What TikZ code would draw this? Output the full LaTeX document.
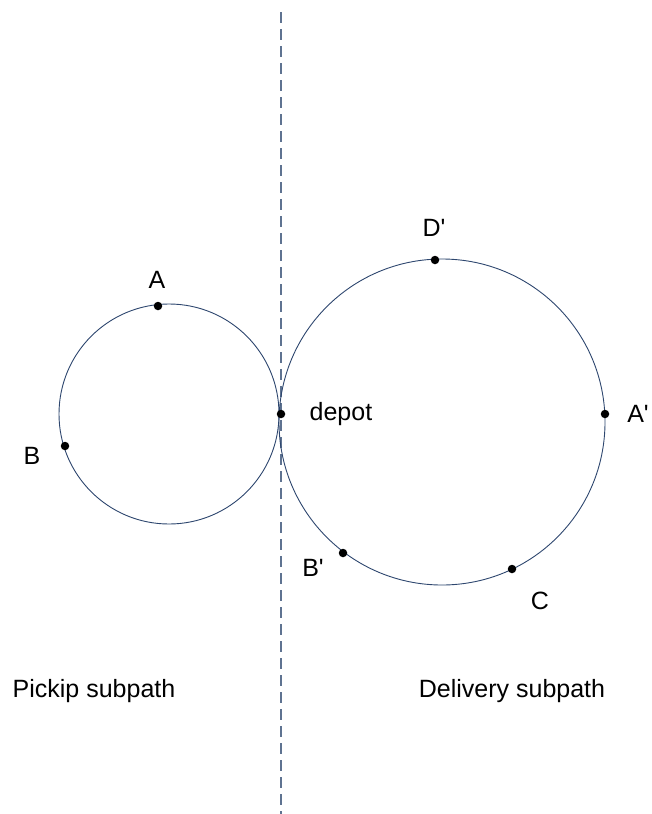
\documentclass[tikz,border=0pt]{standalone}
\usepackage{fontspec}
\setmainfont{Liberation Sans}[Ligatures=TeXOff]
\usepackage{xcolor}
\usetikzlibrary{positioning}
\definecolor{pathblue}{RGB}{45,70,110}
\definecolor{divgray}{RGB}{95,115,145}

\begin{document}
\begin{tikzpicture}[
    x=1pt, y=-1pt,
    route/.style={draw=pathblue, line width=0.9pt},
    divider/.style={draw=divgray, line width=1.2pt, dash pattern=on 11pt off 6pt},
    stop/.style={circle, fill=black, inner sep=0pt, minimum size=8.5pt},
    lbl/.style={font=\fontsize{25}{28}\selectfont, inner sep=0pt},
  ]
  \useasboundingbox (0,0) rectangle (651,814);

  % Divider
  \coordinate (top) at (281,12);
  \coordinate (bot) at (281,814);
  \draw[divider] (top) -- (bot);

  % Subpaths
  \coordinate (pc) at (169,414);
  \coordinate (dc) at (442,422);
  \draw[route] (pc) circle (110);
  \draw[route] (dc) circle (163);

  % Stops
  \node[stop] (a) at (158,306) {};
  \node[stop] (b) at (65,446) {};
  \node[stop] (depot) at (281,414) {};
  \node[stop] (d2) at (435,260) {};
  \node[stop] (a2) at (605,414) {};
  \node[stop] (b2) at (343,553) {};
  \node[stop] (c) at (512,569) {};

  % Labels
  \node[lbl] (la) at (157,280) {A};
  \node[lbl] (lb) at (32,456) {B};
  \node[lbl, right=24pt of depot] (ldepot) {depot};
  \node[lbl] (ld2) at (434,228) {D'};
  \node[lbl] (la2) at (638,414) {A'};
  \node[lbl] (lb2) at (313,568) {B'};
  \node[lbl] (lc) at (540,601) {C};

  \node[lbl] (pick) at (94,691) {Pickip subpath};
  \node[lbl] (deliv) at (512,691) {Delivery subpath};

\end{tikzpicture}
\end{document}
